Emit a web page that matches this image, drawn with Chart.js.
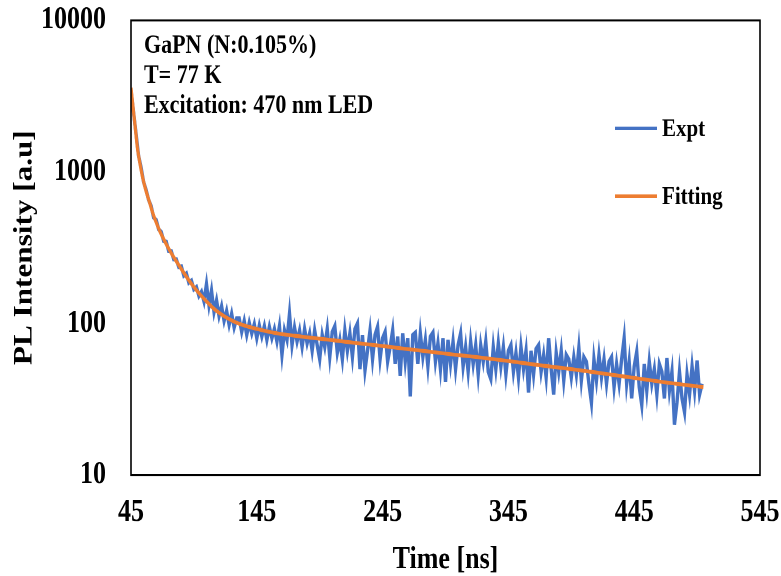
<!DOCTYPE html>
<html>
<head>
<meta charset="utf-8">
<script src="https://cdn.jsdelivr.net/npm/chart.js@4.4.1/dist/chart.umd.min.js"></script>
<style>
  html, body { margin: 0; padding: 0; background: #fff; overflow: hidden; }
</style>
</head>
<body>
<!-- drawn at 781x480 and shown at 781x576: the source picture is stretched vertically -->
<canvas id="plChart" width="781" height="480" style="width: 781px; height: 576px;"></canvas>
<script>
// --- Data ---
// Expt: one reading every 2 ns starting at 45 ns
const exptStart = 45;
const exptStep = 2;
const exptValues = [
    3450, 2480, 1790, 1280, 1070, 860, 760, 655,                               // 45-59
    595, 500, 482, 418, 402, 350, 346, 300, 300, 265,                          // 61-79
    265, 236, 238, 207, 214, 186, 192, 168, 174, 152,                          // 81-99
    162, 140, 182, 132, 165, 119, 142, 112, 130, 104, 121, 98, 116, 94, 108,   // 101-129
    108, 88, 104, 84, 101, 86, 99, 80, 97, 82, 96, 78, 95, 80, 92, 76, 96, 62, // 131-165
    90, 78, 116, 72, 94, 76, 90, 70, 92, 74, 86, 66, 90, 72, 58, 84, 70,       // 167-199
    92, 60, 88, 96, 64, 78, 58, 90, 66, 86,                                    // 201-219
    60, 92, 100, 50, 84, 49, 66, 90, 58, 84,                                   // 221-239
    95, 58, 80, 88, 56, 70, 90, 54, 82, 45,                                    // 241-259
    86, 56, 80, 33, 84, 87, 54, 86, 60, 78,                                    // 261-279
    52, 82, 87, 56, 74, 50, 80, 41, 78, 54,                                    // 281-299
    76, 50, 72, 86, 52, 70, 48, 76, 54, 72,                                    // 301-319
    46, 72, 56, 76, 48, 43, 70, 50, 74, 52,                                    // 321-339
    70, 46, 66, 72, 48, 64, 44, 70, 50, 66,                                    // 341-359
    35, 66, 46, 68, 72, 48, 62, 44, 80, 50,                                    // 361-379
    34, 64, 48, 66, 42, 62, 58, 44, 60, 46,                                    // 381-399
    69, 42, 60, 56, 40, 30, 58, 42, 62, 44,                                    // 401-419
    58, 40, 56, 60, 38, 54, 40, 58, 80, 40,                                    // 421-439
    56, 32, 52, 65, 38, 29, 54, 36, 56, 40,                                    // 441-459
    50, 34, 54, 48, 32, 59, 36, 48, 21.5, 30,                                  // 461-479
    48, 32, 26, 46, 34, 52, 36, 57, 34, 40                                     // 481-499
];

// Fitting curve, read at uneven times (denser where it falls fast)
const fitTimes = [45, 46, 47, 48, 49, 50, 52, 54, 56, 58, 60, 62, 65, 68, 71, 74, 78, 82, 86, 90,
    95, 100, 105, 110, 116, 122, 128, 135, 145, 155, 165, 175, 185, 200, 215, 230, 245, 260,
    280, 300, 320, 345, 370, 395, 420, 445, 470, 500];
const fitValues = [3600, 3000, 2500, 2100, 1750, 1460, 1150, 940, 800, 700, 620, 545, 465, 405, 360, 322, 282, 250, 222, 198,
    174, 155, 140, 127, 116, 108, 102, 97, 92, 88, 85, 83, 81, 78.5, 75.8, 73.3, 71, 68.5,
    65.5, 62.5, 60, 56.5, 53, 50, 46.8, 43.7, 40.8, 38];

const xTicks = [45, 145, 245, 345, 445, 545];
const yTicks = [10, 100, 1000, 10000];
const infoLines = ['GaPN (N:0.105%)', 'T= 77 K', 'Excitation: 470 nm LED'];

// --- Style ---
const blue = '#4472C4';
const orange = '#ED7D31';
const serif = "'Liberation Serif', 'Times New Roman', serif";

const exptPoints = exptValues.map((v, i) => ({ x: exptStart + i * exptStep, y: v }));
const fitPoints = fitTimes.map((t, i) => ({ x: t, y: fitValues[i] }));

// box round the plot, sample info text and the legend inside the plot
const framePlugin = {
    id: 'framePlugin',
    afterDraw(chart) {
        const { ctx, chartArea: a } = chart;
        ctx.save();
        ctx.strokeStyle = '#000';
        ctx.lineWidth = 1.6;
        ctx.strokeRect(a.left, a.top, a.right - a.left, a.bottom - a.top);

        ctx.fillStyle = '#000';
        ctx.font = `bold 22px ${serif}`;
        ctx.textBaseline = 'alphabetic';
        infoLines.forEach((line, i) => ctx.fillText(line, a.left + 13, a.top + 27 + i * 25));

        ctx.font = `bold 21px ${serif}`;
        ctx.textBaseline = 'middle';
        chart.data.datasets.forEach((ds, i) => {
            const y = a.top + 90 + i * 56.5;
            ctx.strokeStyle = ds.borderColor;
            ctx.lineWidth = 3;
            ctx.beginPath();
            ctx.moveTo(a.right - 145, y);
            ctx.lineTo(a.right - 103, y);
            ctx.stroke();
            ctx.fillText(ds.label, a.right - 98, y + 1);
        });
        ctx.restore();
    }
};

const tickFont = { family: serif, size: 26, weight: 'bold' };

new Chart(document.getElementById('plChart'), {
    type: 'line',
    data: {
        datasets: [
            {
                label: 'Expt',
                data: exptPoints,
                borderColor: blue,
                borderWidth: 3.4,
                pointRadius: 0,
                tension: 0,
                order: 2
            },
            {
                label: 'Fitting',
                data: fitPoints,
                borderColor: orange,
                borderWidth: 3.2,
                pointRadius: 0,
                cubicInterpolationMode: 'monotone',
                order: 1
            }
        ]
    },
    options: {
        responsive: false,
        animation: false,
        devicePixelRatio: 2,
        layout: { padding: { left: 2, right: 21, top: 17, bottom: 0 } },
        plugins: {
            legend: { display: false },
            tooltip: { enabled: false }
        },
        scales: {
            x: {
                type: 'linear',
                min: 45,
                max: 545,
                afterBuildTicks: (scale) => { scale.ticks = xTicks.map(v => ({ value: v })); },
                // fixed axis height, no extra end padding
                afterFit: (scale) => {
                    scale.height = 84.2;
                    scale.paddingLeft = 0;
                    scale.paddingRight = 0;
                },
                grid: { display: false, drawTicks: false },
                border: { display: false },
                ticks: { color: '#000', font: tickFont, padding: 16, maxRotation: 0, autoSkip: false },
                title: {
                    display: true,
                    text: 'Time [ns]',
                    color: '#000',
                    font: { family: serif, size: 26, weight: 'bold', lineHeight: 1 },
                    padding: { top: 0, bottom: 0 }
                }
            },
            y: {
                type: 'logarithmic',
                min: 10,
                max: 10000,
                afterBuildTicks: (scale) => { scale.ticks = yTicks.map(v => ({ value: v })); },
                afterFit: (scale) => {
                    scale.width = 129;
                    scale.paddingTop = 0;
                    scale.paddingBottom = 0;
                },
                grid: { display: false, drawTicks: false },
                border: { display: false },
                ticks: { color: '#000', font: tickFont, padding: 25, callback: (v) => String(v) },
                title: {
                    display: true,
                    text: 'PL Intensity [a.u]',
                    color: '#000',
                    font: tickFont,
                    padding: { top: 7.4, bottom: 0 }
                }
            }
        }
    },
    plugins: [framePlugin]
});
</script>
</body>
</html>
